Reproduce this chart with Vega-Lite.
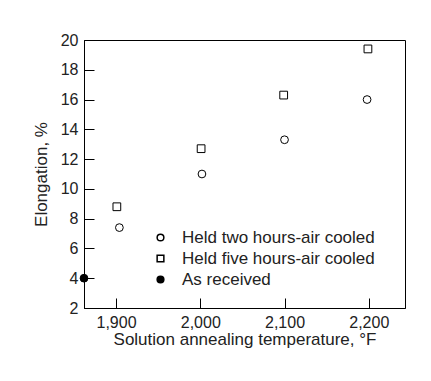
{
  "$schema": "https://vega.github.io/schema/vega-lite/v6.json",
  "width": 321,
  "height": 268,
  "autosize": "none",
  "padding": {"left": 84, "top": 40, "right": 26, "bottom": 73},
  "background": "white",
  "config": {
    "view": {"stroke": "black", "strokeWidth": 1},
    "font": "Liberation Sans",
    "axis": {
      "domainColor": "black",
      "tickColor": "black",
      "labelColor": "#222",
      "titleColor": "#222",
      "labelFontSize": 16,
      "titleFontSize": 17,
      "titleFontWeight": "normal",
      "grid": false
    }
  },
  "data": {
    "values": [
      {"temp": 1904, "elong": 7.4, "series": "Held two hours-air cooled"},
      {"temp": 2002, "elong": 11.0, "series": "Held two hours-air cooled"},
      {"temp": 2100, "elong": 13.3, "series": "Held two hours-air cooled"},
      {"temp": 2198, "elong": 16.0, "series": "Held two hours-air cooled"},
      {"temp": 1901, "elong": 8.8, "series": "Held five hours-air cooled"},
      {"temp": 2001, "elong": 12.7, "series": "Held five hours-air cooled"},
      {"temp": 2099, "elong": 16.3, "series": "Held five hours-air cooled"},
      {"temp": 2199, "elong": 19.4, "series": "Held five hours-air cooled"},
      {"temp": 1862, "elong": 4.0, "series": "As received"}
    ]
  },
  "mark": {"type": "point", "filled": true, "stroke": "black", "strokeWidth": 1, "size": 60, "opacity": 1, "clip": false},
  "encoding": {
    "x": {
      "field": "temp",
      "type": "quantitative",
      "scale": {"domain": [1862, 2243], "nice": false, "zero": false},
      "axis": {
        "title": "Solution annealing temperature, °F",
        "values": [1900, 2000, 2100, 2200],
        "format": ",d",
        "tickSize": -10,
        "labelPadding": 16,
        "titlePadding": 1
      }
    },
    "y": {
      "field": "elong",
      "type": "quantitative",
      "scale": {"domain": [2, 20], "nice": false, "zero": false},
      "axis": {
        "title": "Elongation, %",
        "values": [2, 4, 6, 8, 10, 12, 14, 16, 18, 20],
        "tickSize": -10,
        "labelPadding": 16,
        "titlePadding": 10
      }
    },
    "shape": {
      "field": "series",
      "type": "nominal",
      "scale": {
        "domain": ["Held two hours-air cooled", "Held five hours-air cooled", "As received"],
        "range": ["circle", "square", "circle"]
      },
      "legend": {
        "title": null,
        "orient": "none",
        "legendX": 68,
        "legendY": 189,
        "labelFontSize": 17,
        "labelColor": "#222",
        "labelLimit": 0,
        "symbolSize": 45,
        "labelOffset": 13,
        "rowPadding": 3,
        "encode": {"symbols": {"update": {"stroke": {"value": "black"}, "strokeWidth": {"value": 1}, "opacity": {"value": 1}}}}
      }
    },
    "fill": {
      "field": "series",
      "type": "nominal",
      "scale": {
        "domain": ["Held two hours-air cooled", "Held five hours-air cooled", "As received"],
        "range": ["white", "white", "black"]
      },
      "legend": {
        "title": null,
        "orient": "none",
        "legendX": 68,
        "legendY": 189,
        "labelFontSize": 17,
        "labelColor": "#222",
        "labelLimit": 0,
        "symbolSize": 45,
        "labelOffset": 13,
        "rowPadding": 3,
        "encode": {"symbols": {"update": {"stroke": {"value": "black"}, "strokeWidth": {"value": 1}, "opacity": {"value": 1}}}}
      }
    }
  }
}
